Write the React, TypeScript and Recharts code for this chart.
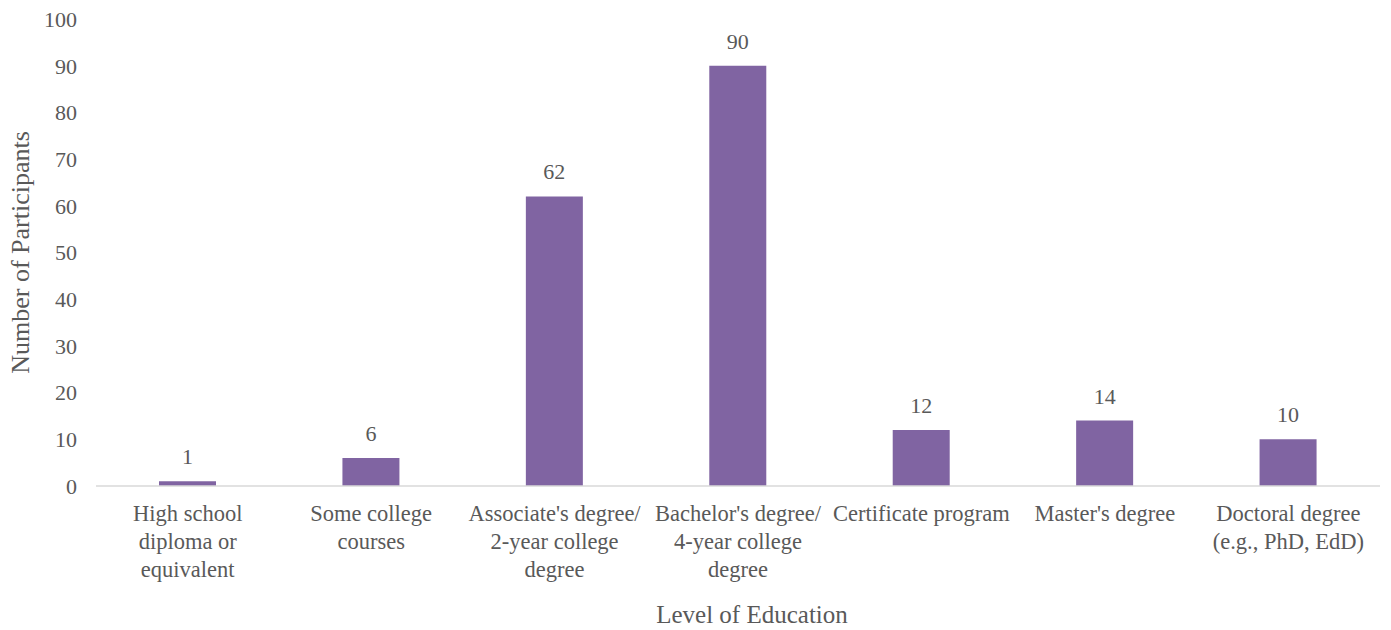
import { BarChart, Bar, XAxis, YAxis, LabelList, Label } from "recharts";

const categories = [
  "High school diploma or equivalent",
  "Some college courses",
  "Associate's degree/ 2-year college degree",
  "Bachelor's degree/ 4-year college degree",
  "Certificate program",
  "Master's degree",
  "Doctoral degree (e.g., PhD, EdD)",
];

// how each category label breaks into lines on the axis
const categoryLines = [
  ["High school", "diploma or", "equivalent"],
  ["Some college", "courses"],
  ["Associate's degree/", "2-year college", "degree"],
  ["Bachelor's degree/", "4-year college", "degree"],
  ["Certificate program"],
  ["Master's degree"],
  ["Doctoral degree", "(e.g., PhD, EdD)"],
];

const participants = [1, 6, 62, 90, 12, 14, 10];
const yTicks = [0, 10, 20, 30, 40, 50, 60, 70, 80, 90, 100];

const data = categories.map((name, i) => ({ name, value: participants[i], lines: categoryLines[i] }));

const FONT = '"Liberation Serif", "DejaVu Serif", serif';
const TEXT = "#595959";
const PURPLE = "#8064A2";

function CategoryTick({ x, y, payload, index }: any) {
  const lines = categoryLines[index ?? payload.index] || [payload.value];
  return (
    <g transform={`translate(${x},${y})`}>
      {lines.map((line, i) => (
        <text key={i} x={0} y={i * 28} dy={27} textAnchor="middle" fill={TEXT} fontSize={22.5} fontFamily={FONT}>
          {line}
        </text>
      ))}
    </g>
  );
}

export default function App() {
  return (
    <div style={{ position: "absolute", left: 0, top: 0, background: "#fff" }}>
      <BarChart width={1391} height={630} data={data} margin={{ top: 19, right: 11, bottom: 0, left: 0 }}>
        <XAxis
          dataKey="name"
          interval={0}
          height={144}
          tickLine={false}
          axisLine={{ stroke: "#d9d9d9", strokeWidth: 1.5 }}
          tick={<CategoryTick />}
        >
          <Label value="Level of Education" position="insideBottom" offset={7} dx={14} fill={TEXT} fontSize={25} fontFamily={FONT} />
        </XAxis>
        <YAxis
          width={96}
          domain={[0, 100]}
          ticks={yTicks}
          interval={0}
          axisLine={false}
          tickLine={false}
          tickSize={6}
          tickMargin={13}
          tick={{ fill: TEXT, fontSize: 22, fontFamily: FONT }}
        >
          <Label
            value="Number of Participants"
            angle={-90}
            position="insideLeft"
            offset={20}
            style={{ textAnchor: "middle" }}
            fill={TEXT}
            fontSize={26}
            fontFamily={FONT}
          />
        </YAxis>
        <Bar dataKey="value" fill={PURPLE} barSize={57} isAnimationActive={false}>
          <LabelList dataKey="value" position="top" offset={17} fill={TEXT} fontSize={22} fontFamily={FONT} />
        </Bar>
      </BarChart>
    </div>
  );
}
